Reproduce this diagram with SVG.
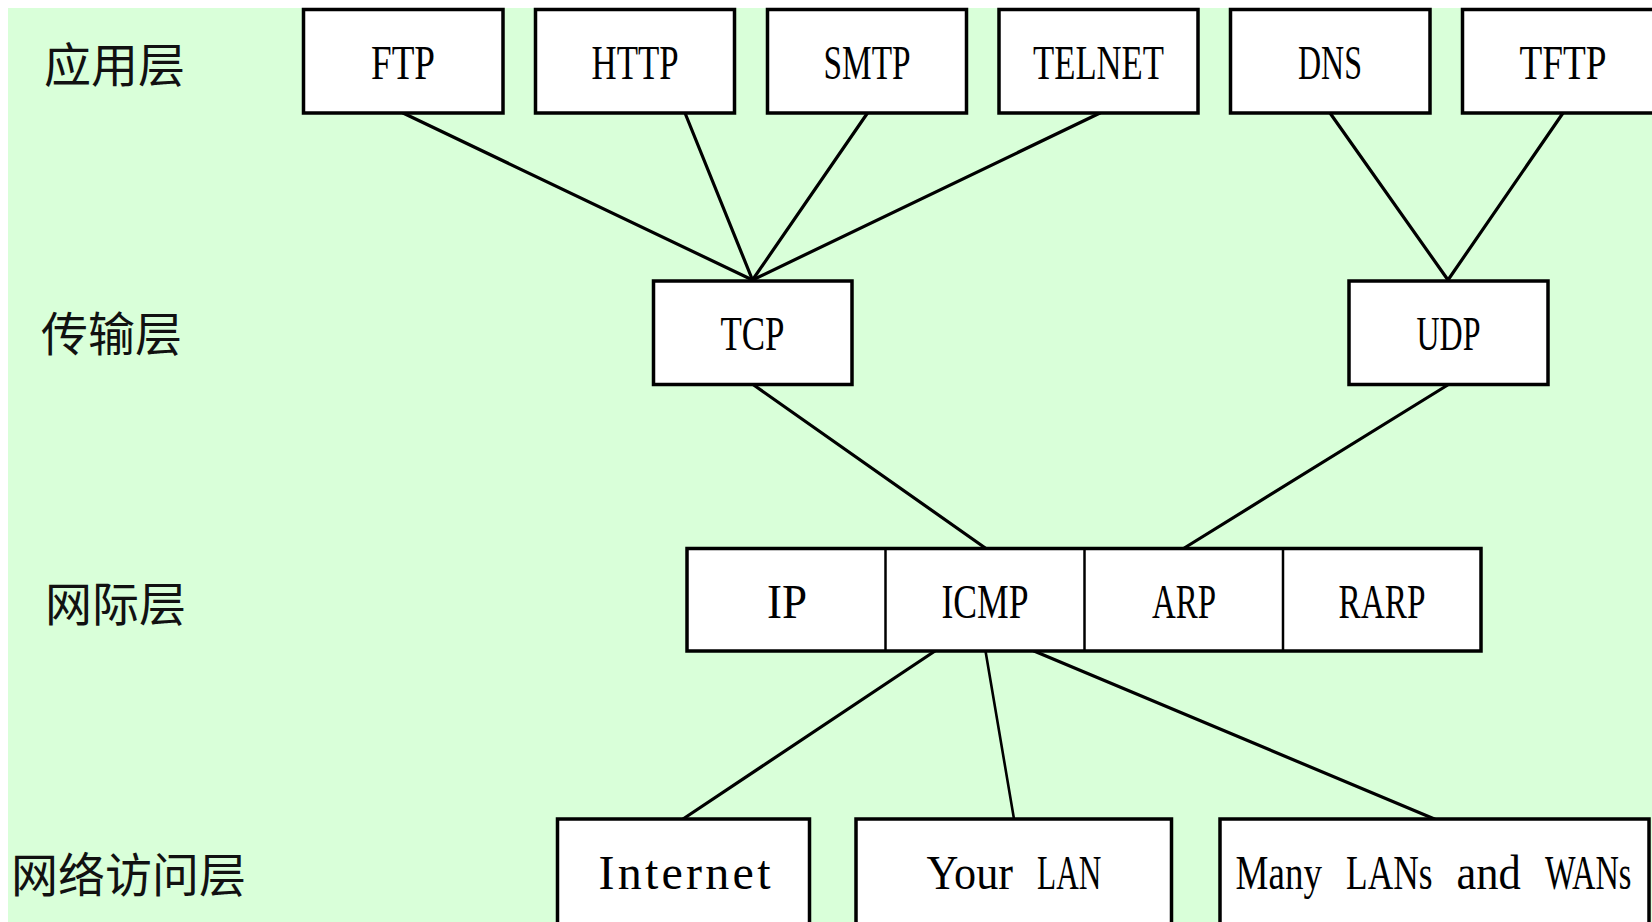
<svg xmlns="http://www.w3.org/2000/svg" width="1652" height="922" viewBox="0 0 1652 922">
  <style>
    .box { fill: #ffffff; stroke: #000000; stroke-width: 3.5; }
    .div { stroke: #000000; stroke-width: 2.5; }
    .lbl { font-family: "Liberation Serif", "DejaVu Serif", serif; font-size: 48px; fill: #000000; text-anchor: middle; }
    .lbl-start { text-anchor: start; }
    .layer { font-family: "Noto Sans CJK SC", "Noto Sans CJK JP", sans-serif; font-size: 47px; fill: #111111; }
    .link { stroke: #000000; stroke-width: 3.2; fill: none; stroke-linecap: round; }
  </style>

  <!-- page background -->
  <rect x="0" y="0" width="1652" height="922" fill="#ffffff"/>
  <rect x="8" y="8" width="1644" height="914" fill="#d9ffd9"/>

  <!-- layer captions -->
  <g id="layer-labels">
    <text class="layer" x="44" y="82">应用层</text>
    <text class="layer" x="41" y="351">传输层</text>
    <text class="layer" x="45" y="621">网际层</text>
    <text class="layer" x="11" y="892">网络访问层</text>
  </g>

  <!-- connectors -->
  <g id="connectors">
    <line class="link" x1="403" y1="113" x2="752.5" y2="280"/>
    <line class="link" x1="685" y1="113" x2="752.5" y2="280"/>
    <line class="link" x1="867.5" y1="113" x2="752.5" y2="280"/>
    <line class="link" x1="1100" y1="113" x2="752.5" y2="280"/>
    <line class="link" x1="1330" y1="113" x2="1448" y2="280"/>
    <line class="link" x1="1563" y1="113" x2="1448" y2="280"/>
    <line class="link" x1="753" y1="384.5" x2="986" y2="548.5"/>
    <line class="link" x1="1448.5" y1="384.5" x2="1183.5" y2="548.5"/>
    <line class="link" x1="935" y1="651" x2="683" y2="819"/>
    <line class="link" x1="985.5" y1="651" x2="1014" y2="819" style="stroke-width:2.6"/>
    <line class="link" x1="1034" y1="651" x2="1434.5" y2="819"/>
  </g>

  <!-- application layer -->
  <g id="node-ftp">
    <rect class="box" x="303.5" y="9.5" width="199.5" height="103.5"/>
    <text class="lbl" x="403" y="79" textLength="64" lengthAdjust="spacingAndGlyphs">FTP</text>
  </g>
  <g id="node-http">
    <rect class="box" x="535.5" y="9.5" width="199" height="103.5"/>
    <text class="lbl" x="635" y="79" textLength="87" lengthAdjust="spacingAndGlyphs">HTTP</text>
  </g>
  <g id="node-smtp">
    <rect class="box" x="767.5" y="9.5" width="199" height="103.5"/>
    <text class="lbl" x="867" y="79" textLength="87" lengthAdjust="spacingAndGlyphs">SMTP</text>
  </g>
  <g id="node-telnet">
    <rect class="box" x="999" y="9.5" width="199" height="103.5"/>
    <text class="lbl" x="1098.5" y="79" textLength="131" lengthAdjust="spacingAndGlyphs">TELNET</text>
  </g>
  <g id="node-dns">
    <rect class="box" x="1230.5" y="9.5" width="199.5" height="103.5"/>
    <text class="lbl" x="1330" y="79" textLength="64" lengthAdjust="spacingAndGlyphs">DNS</text>
  </g>
  <g id="node-tftp">
    <rect class="box" x="1462.5" y="9.5" width="200" height="103.5"/>
    <text class="lbl" x="1563" y="79" textLength="87" lengthAdjust="spacingAndGlyphs">TFTP</text>
  </g>

  <!-- transport layer -->
  <g id="node-tcp">
    <rect class="box" x="653.5" y="281" width="198.5" height="103.5"/>
    <text class="lbl" x="752.5" y="349.5" textLength="64" lengthAdjust="spacingAndGlyphs">TCP</text>
  </g>
  <g id="node-udp">
    <rect class="box" x="1349" y="281" width="199" height="103.5"/>
    <text class="lbl" x="1448.5" y="349.5" textLength="64" lengthAdjust="spacingAndGlyphs">UDP</text>
  </g>

  <!-- internet layer: one strip split into four cells -->
  <g id="node-internet-layer">
    <rect class="box" x="687" y="548.5" width="794" height="102.5"/>
    <line class="div" x1="885.5" y1="548.5" x2="885.5" y2="651"/>
    <line class="div" x1="1084.5" y1="548.5" x2="1084.5" y2="651"/>
    <line class="div" x1="1283" y1="548.5" x2="1283" y2="651"/>
  </g>
  <g id="node-ip">
    <text class="lbl" x="787" y="618" textLength="40" lengthAdjust="spacingAndGlyphs">IP</text>
  </g>
  <g id="node-icmp">
    <text class="lbl" x="985" y="618" textLength="87" lengthAdjust="spacingAndGlyphs">ICMP</text>
  </g>
  <g id="node-arp">
    <text class="lbl" x="1184" y="618" textLength="64" lengthAdjust="spacingAndGlyphs">ARP</text>
  </g>
  <g id="node-rarp">
    <text class="lbl" x="1382" y="618" textLength="87" lengthAdjust="spacingAndGlyphs">RARP</text>
  </g>

  <!-- network access layer (words laid out on a fixed-width character grid) -->
  <g id="node-internet">
    <rect class="box" x="557.5" y="819" width="252" height="120"/>
    <text class="lbl" x="684.5" y="889" textLength="172" lengthAdjust="spacing">Internet</text>
  </g>
  <g id="node-your-lan">
    <rect class="box" x="856" y="819" width="315.5" height="120"/>
    <text class="lbl lbl-start" y="889"><tspan x="926.6" textLength="86.4" lengthAdjust="spacingAndGlyphs">Your</tspan> <tspan x="1037.1" textLength="64.3" lengthAdjust="spacingAndGlyphs">LAN</tspan></text>
  </g>
  <g id="node-many-lans">
    <rect class="box" x="1220" y="819" width="429" height="120"/>
    <text class="lbl lbl-start" y="889"><tspan x="1235.6" textLength="86.4" lengthAdjust="spacingAndGlyphs">Many</tspan> <tspan x="1346.1" textLength="86.4" lengthAdjust="spacingAndGlyphs">LANs</tspan> <tspan x="1456.6" textLength="64.3" lengthAdjust="spacingAndGlyphs">and</tspan> <tspan x="1545" textLength="86.4" lengthAdjust="spacingAndGlyphs">WANs</tspan></text>
  </g>
</svg>
